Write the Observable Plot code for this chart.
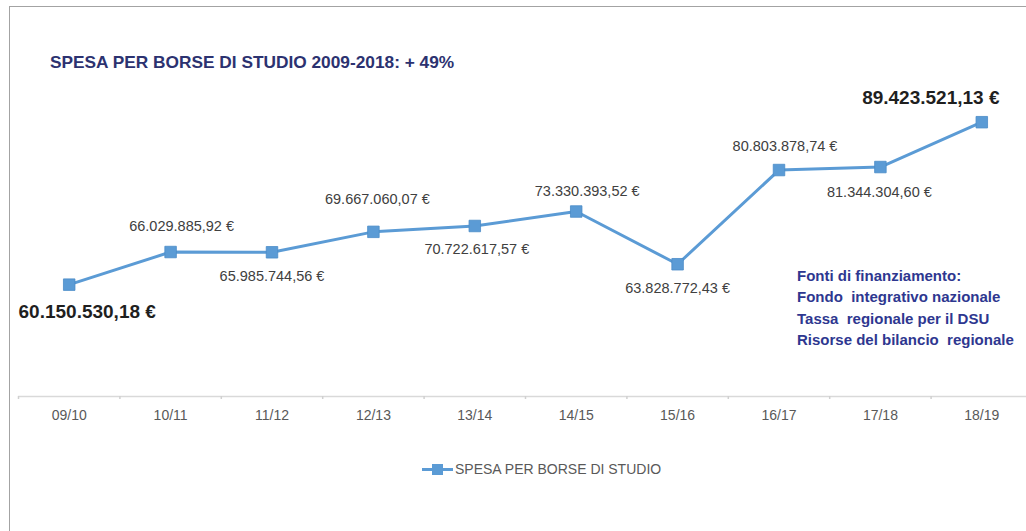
<!DOCTYPE html>
<html>
<head>
<meta charset="utf-8">
<script src="https://cdn.jsdelivr.net/npm/d3@7"></script>
<script src="https://cdn.jsdelivr.net/npm/@observablehq/plot@0.6"></script>
<style>
  html, body { margin: 0; padding: 0; background: #fff; overflow: hidden; }
  #wrap { position: relative; width: 1026px; height: 531px; overflow: hidden; font-family: "Liberation Sans", Arial, sans-serif; }
  #chart { position: absolute; left: 0; top: 0; width: 1040px; height: 531px; }
  #chart svg { max-width: none !important; display: block; }
  .border-top { position: absolute; left: 9px; top: 6px; width: 1017px; height: 0; border-top: 1.5px solid #a3a3a3; }
  .border-left { position: absolute; left: 9px; top: 6px; width: 0; height: 525px; border-left: 1.5px solid #a3a3a3; }
  #title { position: absolute; left: 50px; top: 52px; line-height: 20px; font-size: 17.3px; font-weight: bold; color: #2c3270; white-space: nowrap; }
  #sources { position: absolute; left: 797px; top: 265px; line-height: 21.3px; font-size: 15px; font-weight: bold; color: #2e3790; white-space: pre; }
  #legend { position: absolute; left: 422px; top: 459px; height: 20px; display: flex; align-items: center; font-size: 14px; color: #595959; white-space: nowrap; }
  #legend .sym { position: relative; width: 31px; height: 20px; margin-right: 2px; }
  #legend .sym .ln { position: absolute; left: 0; top: 8.5px; width: 31px; height: 3px; background: #5b9bd5; }
  #legend .sym .sq { position: absolute; left: 10px; top: 4.5px; width: 11px; height: 11px; background: #5b9bd5; }
</style>
</head>
<body>
<div id="wrap">
  <div id="chart"></div>
  <div class="border-top"></div>
  <div class="border-left"></div>
  <div id="title"></div>
  <div id="sources"></div>
  <div id="legend"><div class="sym"><div class="ln"></div><div class="sq"></div></div><span id="legendText"></span></div>
</div>
<script>
// ---- data ----
const seasons = ["09/10", "10/11", "11/12", "12/13", "13/14", "14/15", "15/16", "16/17", "17/18", "18/19"];
const spesa = [60150530.18, 66029885.92, 65985744.56, 69667060.07, 70722617.57, 73330393.52, 63828772.43, 80803878.74, 81344304.60, 89423521.13];
const seriesName = "SPESA PER BORSE DI STUDIO";
const titleText = "SPESA PER BORSE DI STUDIO 2009-2018: + 49%";
const sourcesLines = ["Fonti di finanziamento:", "Fondo  integrativo nazionale", "Tassa  regionale per il DSU", "Risorse del bilancio  regionale"];
const yDomain = [40000000, 100000000];

// ---- text ----
document.getElementById("title").textContent = titleText;
document.getElementById("sources").textContent = sourcesLines.join("\n");
document.getElementById("legendText").textContent = seriesName;

// ---- chart ----
const data = seasons.map((s, i) => ({i, season: s, value: spesa[i]}));
const euro = d3.formatLocale({decimal: ",", thousands: ".", grouping: [3], currency: ["", "\u00a0€"]}).format("$,.2f");
const boundaries = d3.range(seasons.length + 1).map(k => k - 0.5);

// label placement (offset from point, px) and emphasis
const placement = [
  {dx: 18, dy: 27, bold: true},
  {dx: 11, dy: -26},
  {dx: 0, dy: 24},
  {dx: 4, dy: -32},
  {dx: 2, dy: 23},
  {dx: 11, dy: -20},
  {dx: 0, dy: 24},
  {dx: 6, dy: -24},
  {dx: -1, dy: 25},
  {dx: -51, dy: -24, bold: true}
];

const labelMarks = data.map((d, k) => Plot.text([d], {
  x: "i", y: "value", text: r => euro(r.value),
  dx: placement[k].dx, dy: placement[k].dy,
  fontSize: placement[k].bold ? 19 : 14.5,
  fontWeight: placement[k].bold ? "bold" : "normal",
  fill: placement[k].bold ? "#1f1f1f" : "#404040",
  textAnchor: "middle"
}));

const plot = Plot.plot({
  width: 1040,
  height: 531,
  marginLeft: 18,
  marginRight: 8,
  marginTop: 63,
  marginBottom: 135,
  style: {fontFamily: '"Liberation Sans", Arial, sans-serif', background: "transparent", overflow: "visible", maxWidth: "none"},
  x: {type: "linear", domain: [-0.5, seasons.length - 0.5]},
  y: {domain: yDomain, axis: null},
  marks: [
    Plot.ruleY([yDomain[0]], {stroke: "#d9d9d9", strokeWidth: 1.5}),
    Plot.axisX({ticks: boundaries, tickSize: 3, tickFormat: () => "", stroke: "#d0d0d0", strokeWidth: 1.5, label: null}),
    Plot.axisX({ticks: d3.range(seasons.length), tickSize: 0, tickPadding: 14, tickFormat: i => seasons[i], fontSize: 14, fill: "#595959", label: null}),
    Plot.line(data, {x: "i", y: "value", stroke: "#5b9bd5", strokeWidth: 3}),
    Plot.dot(data, {x: "i", y: "value", symbol: "square", r: 6.5, fill: "#5b9bd5", stroke: "#4a8bc8", strokeWidth: 0.8}),
    ...labelMarks
  ]
});
plot.style.maxWidth = "none";
document.getElementById("chart").appendChild(plot);
</script>
</body>
</html>
